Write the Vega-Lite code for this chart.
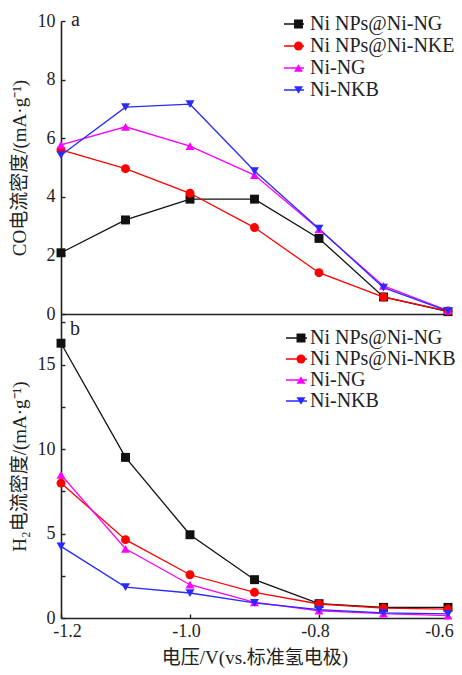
{
  "$schema": "https://vega.github.io/schema/vega-lite/v6.json",
  "autosize": {"type": "pad"},
  "padding": {"left": 10, "top": 9, "right": 2, "bottom": 2},
  "spacing": 0,
  "bounds": "flush",
  "background": "white",
  "config": {
    "view": {"stroke": null},
    "font": "Liberation Serif",
    "axis": {
      "grid": false,
      "domainColor": "#222222",
      "domainWidth": 1.6,
      "tickColor": "#222222",
      "tickWidth": 1.4,
      "tickSize": -4,
      "labelFont": "Liberation Serif",
      "labelFontSize": 18,
      "labelColor": "#222222",
      "titleFont": "Liberation Serif, Noto Sans CJK SC",
      "titleFontSize": 19,
      "titleFontWeight": "normal",
      "titleColor": "#222222"
    },
    "legend": {
      "padding": 0,
      "labelFont": "Liberation Serif",
      "labelFontSize": 20,
      "labelColor": "#222222",
      "title": null
    }
  },
  "datasets": {
    "co": [
      {"v": -1.2, "j": 2.09, "series": "Ni NPs@Ni-NG"},
      {"v": -1.1, "j": 3.21, "series": "Ni NPs@Ni-NG"},
      {"v": -1.0, "j": 3.92, "series": "Ni NPs@Ni-NG"},
      {"v": -0.9, "j": 3.92, "series": "Ni NPs@Ni-NG"},
      {"v": -0.8, "j": 2.58, "series": "Ni NPs@Ni-NG"},
      {"v": -0.7, "j": 0.58, "series": "Ni NPs@Ni-NG"},
      {"v": -0.6, "j": 0.08, "series": "Ni NPs@Ni-NG"},
      {"v": -1.2, "j": 5.6, "series": "Ni NPs@Ni-NKE"},
      {"v": -1.1, "j": 4.96, "series": "Ni NPs@Ni-NKE"},
      {"v": -1.0, "j": 4.12, "series": "Ni NPs@Ni-NKE"},
      {"v": -0.9, "j": 2.95, "series": "Ni NPs@Ni-NKE"},
      {"v": -0.8, "j": 1.41, "series": "Ni NPs@Ni-NKE"},
      {"v": -0.7, "j": 0.58, "series": "Ni NPs@Ni-NKE"},
      {"v": -0.6, "j": 0.1, "series": "Ni NPs@Ni-NKE"},
      {"v": -1.2, "j": 5.77, "series": "Ni-NG"},
      {"v": -1.1, "j": 6.39, "series": "Ni-NG"},
      {"v": -1.0, "j": 5.73, "series": "Ni-NG"},
      {"v": -0.9, "j": 4.74, "series": "Ni-NG"},
      {"v": -0.8, "j": 2.89, "series": "Ni-NG"},
      {"v": -0.7, "j": 0.96, "series": "Ni-NG"},
      {"v": -0.6, "j": 0.12, "series": "Ni-NG"},
      {"v": -1.2, "j": 5.42, "series": "Ni-NKB"},
      {"v": -1.1, "j": 7.06, "series": "Ni-NKB"},
      {"v": -1.0, "j": 7.16, "series": "Ni-NKB"},
      {"v": -0.9, "j": 4.88, "series": "Ni-NKB"},
      {"v": -0.8, "j": 2.91, "series": "Ni-NKB"},
      {"v": -0.7, "j": 0.9, "series": "Ni-NKB"},
      {"v": -0.6, "j": 0.1, "series": "Ni-NKB"}
    ],
    "h2": [
      {"v": -1.2, "j": 16.27, "series": "Ni NPs@Ni-NG"},
      {"v": -1.1, "j": 9.51, "series": "Ni NPs@Ni-NG"},
      {"v": -1.0, "j": 4.93, "series": "Ni NPs@Ni-NG"},
      {"v": -0.9, "j": 2.27, "series": "Ni NPs@Ni-NG"},
      {"v": -0.8, "j": 0.85, "series": "Ni NPs@Ni-NG"},
      {"v": -0.7, "j": 0.63, "series": "Ni NPs@Ni-NG"},
      {"v": -0.6, "j": 0.63, "series": "Ni NPs@Ni-NG"},
      {"v": -1.2, "j": 7.99, "series": "Ni NPs@Ni-NKB"},
      {"v": -1.1, "j": 4.64, "series": "Ni NPs@Ni-NKB"},
      {"v": -1.0, "j": 2.56, "series": "Ni NPs@Ni-NKB"},
      {"v": -0.9, "j": 1.52, "series": "Ni NPs@Ni-NKB"},
      {"v": -0.8, "j": 0.83, "series": "Ni NPs@Ni-NKB"},
      {"v": -0.7, "j": 0.59, "series": "Ni NPs@Ni-NKB"},
      {"v": -0.6, "j": 0.53, "series": "Ni NPs@Ni-NKB"},
      {"v": -1.2, "j": 8.48, "series": "Ni-NG"},
      {"v": -1.1, "j": 4.1, "series": "Ni-NG"},
      {"v": -1.0, "j": 1.97, "series": "Ni-NG"},
      {"v": -0.9, "j": 0.93, "series": "Ni-NG"},
      {"v": -0.8, "j": 0.43, "series": "Ni-NG"},
      {"v": -0.7, "j": 0.26, "series": "Ni-NG"},
      {"v": -0.6, "j": 0.14, "series": "Ni-NG"},
      {"v": -1.2, "j": 4.24, "series": "Ni-NKB"},
      {"v": -1.1, "j": 1.83, "series": "Ni-NKB"},
      {"v": -1.0, "j": 1.48, "series": "Ni-NKB"},
      {"v": -0.9, "j": 0.89, "series": "Ni-NKB"},
      {"v": -0.8, "j": 0.49, "series": "Ni-NKB"},
      {"v": -0.7, "j": 0.3, "series": "Ni-NKB"},
      {"v": -0.6, "j": 0.24, "series": "Ni-NKB"}
    ]
  },
  "vconcat": [
    {
      "width": 387,
      "height": 293,
      "layer": [
        {
          "data": {"name": "co"},
          "mark": {"type": "line", "strokeWidth": 1.3},
          "encoding": {
            "x": {"field": "v", "type": "quantitative", "scale": {"domain": [-1.2, -0.6], "nice": false, "zero": false},
                  "axis": {"labels": false, "ticks": false, "title": null}},
            "y": {"field": "j", "type": "quantitative", "scale": {"domain": [0, 10], "nice": false},
                  "axis": {"values": [0, 2, 4, 6, 8, 10], "labelPadding": 10, "title": "CO电流密度/(mA·g⁻¹)", "titlePadding": 8}},
            "stroke": {"field": "series", "type": "nominal",
                      "scale": {"domain": ["Ni NPs@Ni-NG", "Ni NPs@Ni-NKE", "Ni-NG", "Ni-NKB"], "range": ["#111111", "#ff0000", "#ff00ff", "#2a2aff"]},
                      "legend": {"orient": "none", "legendX": 222, "legendY": -7.5, "symbolType": "stroke", "symbolSize": 400, "symbolStrokeWidth": 1.3, "clipHeight": 21, "rowPadding": 1, "labelOffset": 5}}
          }
        },
        {
          "data": {"name": "co"},
          "mark": {"type": "point", "filled": true, "size": 80, "opacity": 1},
          "encoding": {
            "x": {"field": "v", "type": "quantitative"},
            "y": {"field": "j", "type": "quantitative"},
            "fill": {"field": "series", "type": "nominal",
                     "scale": {"range": ["#111111", "#ff0000", "#ff00ff", "#2a2aff"]},
                     "legend": {"orient": "none", "legendX": 227.5, "legendY": -7.5, "symbolSize": 80, "symbolStrokeWidth": 0, "symbolOpacity": 1, "clipHeight": 21, "rowPadding": 1, "labelExpr": "''"}},
            "shape": {"field": "series", "type": "nominal",
                      "scale": {"range": ["square", "circle", "triangle-up", "triangle-down"]},
                      "legend": {"orient": "none", "legendX": 227.5, "legendY": -7.5, "symbolSize": 80, "symbolStrokeWidth": 0, "symbolOpacity": 1, "clipHeight": 21, "rowPadding": 1, "labelExpr": "''"}}
          }
        },
        {
          "data": {"values": [{"label": "a"}]},
          "mark": {"type": "text", "align": "left", "baseline": "alphabetic", "fontSize": 20, "font": "Liberation Serif", "color": "#222222"},
          "encoding": {
            "x": {"datum": -1.1845, "type": "quantitative"},
            "y": {"datum": 9.83, "type": "quantitative"},
            "text": {"field": "label"}
          }
        }
      ]
    },
    {
      "width": 387,
      "height": 304,
      "layer": [
        {
          "data": {"name": "h2"},
          "mark": {"type": "line", "strokeWidth": 1.3},
          "encoding": {
            "x": {"field": "v", "type": "quantitative", "scale": {"domain": [-1.2, -0.6], "nice": false, "zero": false},
                  "axis": {"values": [-1.2, -1.0, -0.8, -0.6], "format": ".1f", "labelExpr": "replace(datum.label, '\u2212', '-')", "labelFlush": false, "labelPadding": 8,
                           "labelOffset": {"condition": [{"test": "datum.value < -1.19", "value": 6}, {"test": "datum.value > -0.61", "value": -9}], "value": -4},
                           "title": "电压/V(vs.标准氢电极)", "titlePadding": 8}},
            "y": {"field": "j", "type": "quantitative", "scale": {"domain": [0, 18], "nice": false},
                  "axis": {"values": [0, 2.5, 5, 7.5, 10, 12.5, 15, 17.5], "labelExpr": "datum.value % 5 === 0 ? datum.label : ''", "labelPadding": 10, "title": "H₂电流密度/(mA·g⁻¹)", "titlePadding": 8}},
            "stroke": {"field": "series", "type": "nominal",
                      "scale": {"domain": ["Ni NPs@Ni-NG", "Ni NPs@Ni-NKB", "Ni-NG", "Ni-NKB"], "range": ["#111111", "#ff0000", "#ff00ff", "#2a2aff"]},
                      "legend": {"orient": "none", "legendX": 224, "legendY": 13.5, "symbolType": "stroke", "symbolSize": 441, "symbolStrokeWidth": 1.3, "clipHeight": 21, "rowPadding": 0, "labelOffset": 2}}
          }
        },
        {
          "data": {"name": "h2"},
          "mark": {"type": "point", "filled": true, "size": 80, "opacity": 1},
          "encoding": {
            "x": {"field": "v", "type": "quantitative"},
            "y": {"field": "j", "type": "quantitative"},
            "fill": {"field": "series", "type": "nominal",
                     "scale": {"range": ["#111111", "#ff0000", "#ff00ff", "#2a2aff"]},
                     "legend": {"orient": "none", "legendX": 230, "legendY": 13.5, "symbolSize": 80, "symbolStrokeWidth": 0, "symbolOpacity": 1, "clipHeight": 21, "rowPadding": 0, "labelExpr": "''"}},
            "shape": {"field": "series", "type": "nominal",
                      "scale": {"range": ["square", "circle", "triangle-up", "triangle-down"]},
                      "legend": {"orient": "none", "legendX": 230, "legendY": 13.5, "symbolSize": 80, "symbolStrokeWidth": 0, "symbolOpacity": 1, "clipHeight": 21, "rowPadding": 0, "labelExpr": "''"}}
          }
        },
        {
          "data": {"values": [{"label": "b"}]},
          "mark": {"type": "text", "align": "left", "baseline": "alphabetic", "fontSize": 20, "font": "Liberation Serif", "color": "#222222"},
          "encoding": {
            "x": {"datum": -1.186, "type": "quantitative"},
            "y": {"datum": 16.75, "type": "quantitative"},
            "text": {"field": "label"}
          }
        }
      ]
    }
  ],
  "resolve": {
    "scale": {"x": "shared", "y": "independent", "stroke": "independent", "fill": "independent", "shape": "independent"},
    "legend": {"stroke": "independent", "fill": "independent", "shape": "independent"}
  }
}
